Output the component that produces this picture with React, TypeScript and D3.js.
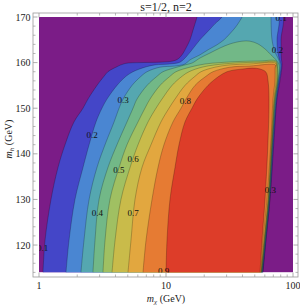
import React from 'react';
import * as d3 from 'd3';

// ---- data ----
const title = 's=1/2, n=2';
const levels = [0.1, 0.2, 0.3, 0.4, 0.5, 0.6, 0.7, 0.8, 0.9];
const bandColors = ['#7b1c87', '#4446c8', '#4a86d2', '#55a7b0', '#72b887', '#a0c062', '#c9bb4a', '#e2a73f', '#e67b33', '#dd3d29'];

// rows of m_h (GeV) for the lower (m_h < 160) branch of each contour
const mhRows = [114, 121, 130, 137, 142, 147, 150, 152, 155, 157, 158, 159];
// m_chi (GeV) of each contour on those rows
const left01 = [1.075, 1.115, 1.243, 1.411, 1.603, 1.886, 2.22, 2.43, 2.86, 3.25, 3.49, 4.04];
const left02 = [1.632, 1.723, 1.92, 2.22, 2.48, 2.81, 3.13, 3.43, 4.11, 4.84, 5.5, 6.83];
const left03 = [2.14, 2.26, 2.48, 2.86, 3.31, 3.9, 4.27, 4.59, 5.4, 6.36, 7.09, 8.97];
const left04 = [2.66, 2.76, 2.97, 3.49, 4.11, 4.93, 5.5, 5.91, 7.09, 8.5, 9.47, 12.21];
const left05 = [3.19, 3.31, 3.62, 4.27, 4.93, 6.02, 6.83, 7.48, 8.97, 10.75, 11.99, 15.45];
const left06 = [3.76, 3.97, 4.42, 5.21, 6.02, 7.22, 8.34, 9.3, 11.15, 13.37, 15.18, 19.21];
const left07 = [5.02, 5.3, 5.7, 6.47, 7.62, 9.13, 10.56, 11.77, 14.11, 16.92, 18.86, 24.31];
const left08 = [6.59, 6.96, 7.76, 8.65, 9.64, 11.35, 13.13, 14.37, 16.92, 20.65, 23.45, 31.91];
const left09 = [10.0, 10.18, 10.75, 11.77, 12.66, 14.11, 16.02, 17.55, 21.4, 26.1, 30.2];

// threshold band and upper part of each contour: [m_chi, m_h]
const top01 = [[4.75, 159.8], [6.24, 160.0], [8.97, 160.1], [11.35, 160.35], [12.43, 160.8], [13.37, 161.7], [14.37, 163.2], [15.45, 165.0], [16.31, 167.1], [17.55, 170], [17.9, 171], [80.5, 171], [80.5, 165], [81, 161], [81.9, 159.5]];
const top02 = [[8.19, 159.5], [10.75, 159.7], [12.9, 160.1], [14.11, 161.0], [16.02, 162.8], [18.5, 165.0], [21.8, 167.1], [24.3, 168.5], [27.6, 170], [28.6, 171], [74.8, 171], [74.8, 165], [75.5, 162.8], [77.6, 161.0], [80.5, 159.5]];
const top03 = [[11.77, 159.25], [14.11, 159.7], [15.45, 160.6], [18.5, 161.7], [21.4, 162.8], [25.2, 163.9], [28.6, 165.0], [31.3, 166.1], [33.7, 167.1], [36.2, 168.2], [39.7, 170], [41, 171], [67.1, 171], [67.1, 170], [68.35, 165.0], [72.1, 162.3], [76.2, 161.0], [79.0, 159.5]];
const top04 = [[14.11, 159.5], [16.02, 159.9], [18.5, 161.0], [22.2, 162.1], [26.6, 163.2], [31.9, 164.1], [39.7, 164.7], [45.8, 164.7], [53.0, 164.1], [61.3, 162.8], [67.1, 161.7], [73.5, 160.6], [77.6, 159.5]];
const top05 = [[20.3, 159.7], [26.6, 160.0], [38.3, 160.25], [55.0, 160.35], [73.5, 160.35], [75.3, 159.3]];
const top06 = [[24.3, 159.5], [34.9, 159.9], [55.0, 160.1], [73.5, 160.1], [74.8, 159.2]];
const top07 = [[31.9, 159.5], [45.8, 159.7], [73.2, 159.85], [73.5, 159.0]];
const top08 = [[45.8, 159.25], [72.5, 159.5], [72.3, 158.8]];
const top09 = [[34.9, 158.4], [40.4, 158.6], [47.6, 158.8], [55.0, 158.6], [61.3, 157.9]];

// kinematic edge (m_chi ~ m_h/2) of each contour, on these m_h rows
const edgeMh = [156, 152, 143, 130, 121, 114];
const edge01 = [79.0, 74.8, 70.9, 65.9, 61.3, 58.0];
const edge02 = [77.6, 74.1, 70.2, 65.6, 61.0, 57.7];
const edge03 = [76.9, 73.5, 69.6, 65.2, 60.6, 57.4];
const edge04 = [76.2, 72.8, 69.2, 64.7, 60.2, 57.0];
const edge05 = [75.5, 72.1, 68.7, 64.4, 59.9, 56.7];
const edge06 = [74.8, 71.5, 68.35, 63.9, 59.4, 56.4];
const edge07 = [73.5, 70.85, 67.7, 63.6, 59.1, 56.1];
const edge08 = [72.1, 69.6, 67.1, 62.4, 58.05, 55.8];
const edge09 = [63.6, 64.7, 63.6, 60.2, 57.0, 55.0];

const lefts = [left01, left02, left03, left04, left05, left06, left07, left08, left09];
const tops = [top01, top02, top03, top04, top05, top06, top07, top08, top09];
const edges = [edge01, edge02, edge03, edge04, edge05, edge06, edge07, edge08, edge09];

// contour labels: [m_chi, m_h, text]
const labelMchi = [1.07, 2.62, 4.6, 2.88, 4.25, 5.52, 5.52, 14.2, 9.6, 66.5, 80.5, 75.5];
const labelMh = [119.3, 145.0, 151.7, 127.0, 136.5, 138.9, 127.0, 151.6, 114.4, 132.0, 169.7, 162.7];
const labelText = ['0.1', '0.2', '0.3', '0.4', '0.5', '0.6', '0.7', '0.8', '0.9', '0.3', '0.1', '0.2'];

const xTickLabels = [1, 10, 100];
const xMinorTicks = [2, 3, 4, 5, 6, 7, 8, 9, 20, 30, 40, 50, 60, 70, 80, 90];
const yTickLabels = [120, 130, 140, 150, 160, 170];
const yMinorTicks = [114, 116, 118, 122, 124, 126, 128, 132, 134, 136, 138, 142, 144, 146, 148, 152, 154, 156, 158, 162, 164, 166, 168];

const FONT = '"Liberation Serif", "DejaVu Serif", serif';

export default function App() {
  const plot = { left: 39, right: 293, top: 17, bottom: 272.4 };
  const frame = { left: 33, right: 298, top: 13, bottom: 277 };
  const x = d3.scaleLog().domain([1, 100]).range([plot.left, plot.right]);
  const y = d3.scaleLinear().domain([114, 170]).range([plot.bottom, plot.top]);
  const line = d3
    .line<number[]>()
    .x((d) => x(d[0]))
    .y((d) => y(d[1]))
    .curve(d3.curveCatmullRom.alpha(0.5));

  const contours = levels.map((lv, i) => {
    const pts: number[][] = [];
    lefts[i].forEach((m, j) => pts.push([m, mhRows[j]]));
    tops[i].forEach((p) => pts.push(p));
    edges[i].forEach((m, j) => pts.push([m, edgeMh[j]]));
    return pts;
  });

  const majorLen = 4.5;
  const minorLen = 2.5;
  const frameColor = '#9a9a9a';

  // label fix for 0.2 (read at y ~ 135 px)
  const lblY = (i: number) => (i === 1 ? y.invert(135) : labelMh[i]);

  return (
    <svg width={300} height={308} style={{ position: 'absolute', left: 0, top: 0, background: '#fff' }}>
      <defs>
        <clipPath id="plotclip">
          <rect x={plot.left} y={plot.top} width={plot.right - plot.left} height={plot.bottom - plot.top} />
        </clipPath>
      </defs>
      <text x={166} y={10.5} textAnchor="middle" fontFamily={FONT} fontSize={12} fill="#222">
        {title}
      </text>
      <g clipPath="url(#plotclip)">
        <rect x={plot.left} y={plot.top} width={plot.right - plot.left} height={plot.bottom - plot.top} fill={bandColors[0]} />
        {contours.map((pts, i) => (
          <path key={'f' + i} d={(line(pts) || '') + 'Z'} fill={bandColors[i + 1]} stroke="none" />
        ))}
        {contours.map((pts, i) => (
          <path key={'s' + i} d={line(pts) || ''} fill="none" stroke="#000" strokeOpacity={0.38} strokeWidth={0.6} />
        ))}
        {labelText.map((t, i) => (
          <text
            key={'l' + i}
            x={x(labelMchi[i])}
            y={y(lblY(i))}
            textAnchor="middle"
            dominantBaseline="central"
            fontFamily={FONT}
            fontSize={9}
            fill="#111"
          >
            {t}
          </text>
        ))}
      </g>
      {/* frame */}
      <rect x={frame.left} y={frame.top} width={frame.right - frame.left} height={frame.bottom - frame.top} fill="none" stroke={frameColor} strokeWidth={0.8} />
      {/* x ticks */}
      {xTickLabels.map((v) => (
        <g key={'xt' + v}>
          <line x1={x(v)} x2={x(v)} y1={frame.bottom} y2={frame.bottom - majorLen} stroke={frameColor} strokeWidth={0.8} />
          <line x1={x(v)} x2={x(v)} y1={frame.top} y2={frame.top + majorLen} stroke={frameColor} strokeWidth={0.8} />
          <text x={x(v)} y={288.5} textAnchor="middle" fontFamily={FONT} fontSize={10} fill="#222">
            {v}
          </text>
        </g>
      ))}
      {xMinorTicks.map((v) => (
        <g key={'xm' + v}>
          <line x1={x(v)} x2={x(v)} y1={frame.bottom} y2={frame.bottom - minorLen} stroke={frameColor} strokeWidth={0.7} />
          <line x1={x(v)} x2={x(v)} y1={frame.top} y2={frame.top + minorLen} stroke={frameColor} strokeWidth={0.7} />
        </g>
      ))}
      {/* y ticks */}
      {yTickLabels.map((v) => (
        <g key={'yt' + v}>
          <line x1={frame.left} x2={frame.left + majorLen} y1={y(v)} y2={y(v)} stroke={frameColor} strokeWidth={0.8} />
          <line x1={frame.right} x2={frame.right - majorLen} y1={y(v)} y2={y(v)} stroke={frameColor} strokeWidth={0.8} />
          <text x={30.5} y={y(v)} textAnchor="end" dominantBaseline="central" fontFamily={FONT} fontSize={10} fill="#222">
            {v}
          </text>
        </g>
      ))}
      {yMinorTicks.map((v) => (
        <g key={'ym' + v}>
          <line x1={frame.left} x2={frame.left + minorLen} y1={y(v)} y2={y(v)} stroke={frameColor} strokeWidth={0.7} />
          <line x1={frame.right} x2={frame.right - minorLen} y1={y(v)} y2={y(v)} stroke={frameColor} strokeWidth={0.7} />
        </g>
      ))}
      {/* axis labels */}
      <text x={166} y={302} textAnchor="middle" fontFamily={FONT} fontSize={10} fill="#222">
        <tspan fontStyle="italic">m</tspan>
        <tspan fontStyle="italic" fontSize={7} dy={2}>χ</tspan>
        <tspan dy={-2}> (GeV)</tspan>
      </text>
      <text transform="translate(12,139) rotate(-90)" textAnchor="middle" fontFamily={FONT} fontSize={10} fill="#222">
        <tspan fontStyle="italic">m</tspan>
        <tspan fontStyle="italic" fontSize={7} dy={2}>h</tspan>
        <tspan dy={-2}> (GeV)</tspan>
      </text>
    </svg>
  );
}
